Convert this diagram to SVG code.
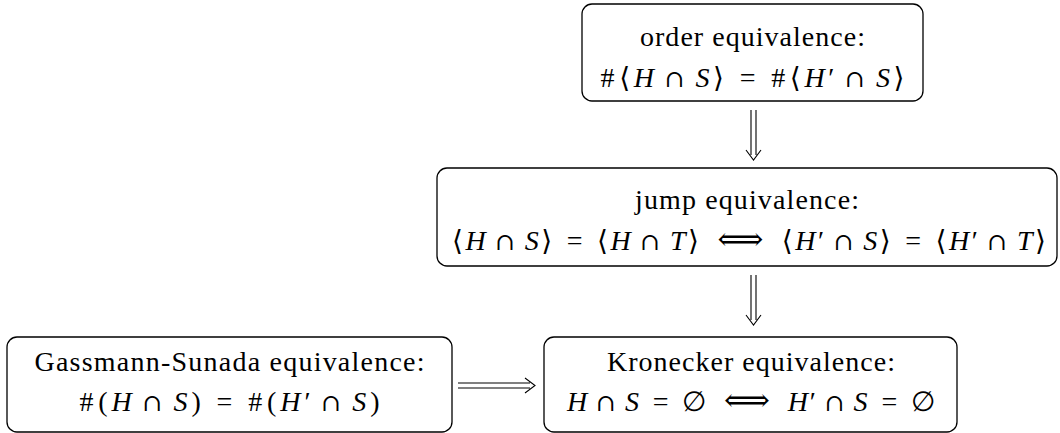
<svg xmlns="http://www.w3.org/2000/svg" width="1060" height="433" viewBox="0 0 1060 433">
<defs>
<style>
.box{fill:#fff;stroke:#000;stroke-width:1.3}
.t{font-family:"Liberation Serif","DejaVu Serif",serif;font-size:28px;fill:#000;text-anchor:middle}
.i{font-style:italic}
.o{font-family:"DejaVu Serif","Liberation Serif",serif;font-size:24px}
.a{font-family:"DejaVu Serif","Liberation Serif",serif;font-size:32px}
.c{fill:none;stroke:#000;stroke-width:1.1}
</style>
</defs>
<rect width="1060" height="433" fill="#fff"/>
<g id="order">
<rect class="box" x="582" y="4" width="341" height="97" rx="10"/>
<text class="t" x="752.5" y="46" textLength="225" lengthAdjust="spacing">order equivalence:</text>
<text class="t" x="752.5" y="87" textLength="304" lengthAdjust="spacing"><tspan>#</tspan><tspan dx="1">⟨</tspan><tspan class="i">H</tspan><tspan class="o" dx="7">∩</tspan><tspan class="i" dx="7">S</tspan><tspan>⟩</tspan><tspan dx="12">=</tspan><tspan dx="12">#</tspan><tspan dx="1">⟨</tspan><tspan class="i">H</tspan><tspan>′</tspan><tspan class="o" dx="7">∩</tspan><tspan class="i" dx="7">S</tspan><tspan>⟩</tspan></text>
</g>
<g id="jump">
<rect class="box" x="437" y="168" width="620" height="98" rx="10"/>
<text class="t" x="747" y="209" textLength="224" lengthAdjust="spacing">jump equivalence:</text>
<text class="t" x="749" y="250" textLength="594" lengthAdjust="spacing"><tspan>⟨</tspan><tspan class="i">H</tspan><tspan class="o" dx="7">∩</tspan><tspan class="i" dx="7">S</tspan><tspan>⟩</tspan><tspan dx="12">=</tspan><tspan dx="12">⟨</tspan><tspan class="i">H</tspan><tspan class="o" dx="7">∩</tspan><tspan class="i" dx="7">T</tspan><tspan>⟩</tspan><tspan class="a" dx="16">⟺</tspan><tspan dx="16">⟨</tspan><tspan class="i">H</tspan><tspan>′</tspan><tspan class="o" dx="7">∩</tspan><tspan class="i" dx="7">S</tspan><tspan>⟩</tspan><tspan dx="12">=</tspan><tspan dx="12">⟨</tspan><tspan class="i">H</tspan><tspan>′</tspan><tspan class="o" dx="7">∩</tspan><tspan class="i" dx="7">T</tspan><tspan>⟩</tspan></text>
</g>
<g id="gassmann">
<rect class="box" x="7" y="337" width="445" height="95" rx="10"/>
<text class="t" x="229.5" y="371" textLength="390" lengthAdjust="spacing">Gassmann-Sunada equivalence:</text>
<text class="t" x="229.5" y="411" textLength="300" lengthAdjust="spacing"><tspan>#</tspan><tspan dx="1">(</tspan><tspan class="i">H</tspan><tspan class="o" dx="7">∩</tspan><tspan class="i" dx="7">S</tspan><tspan>)</tspan><tspan dx="12">=</tspan><tspan dx="12">#</tspan><tspan dx="1">(</tspan><tspan class="i">H</tspan><tspan>′</tspan><tspan class="o" dx="7">∩</tspan><tspan class="i" dx="7">S</tspan><tspan>)</tspan></text>
</g>
<g id="kronecker">
<rect class="box" x="544" y="337" width="413" height="95" rx="10"/>
<text class="t" x="751" y="371" textLength="288" lengthAdjust="spacing">Kronecker equivalence:</text>
<text class="t" x="751" y="411" textLength="368" lengthAdjust="spacing"><tspan class="i">H</tspan><tspan class="o" dx="7">∩</tspan><tspan class="i" dx="7">S</tspan><tspan dx="12">=</tspan><tspan dx="12">∅</tspan><tspan class="a" dx="16">⟺</tspan><tspan class="i" dx="16">H</tspan><tspan>′</tspan><tspan class="o" dx="7">∩</tspan><tspan class="i" dx="7">S</tspan><tspan dx="12">=</tspan><tspan dx="12">∅</tspan></text>
</g>
<g id="connectors">
<path class="c" d="M751 110V155M756 110V155M746 150L753.5 160L761 150"/>
<path class="c" d="M751 275V320M756 275V320M746 315L753.5 325L761 315"/>
<path class="c" d="M458 383H530M458 388H530M525 378L535 385.5L525 393"/>
</g>
</svg>
